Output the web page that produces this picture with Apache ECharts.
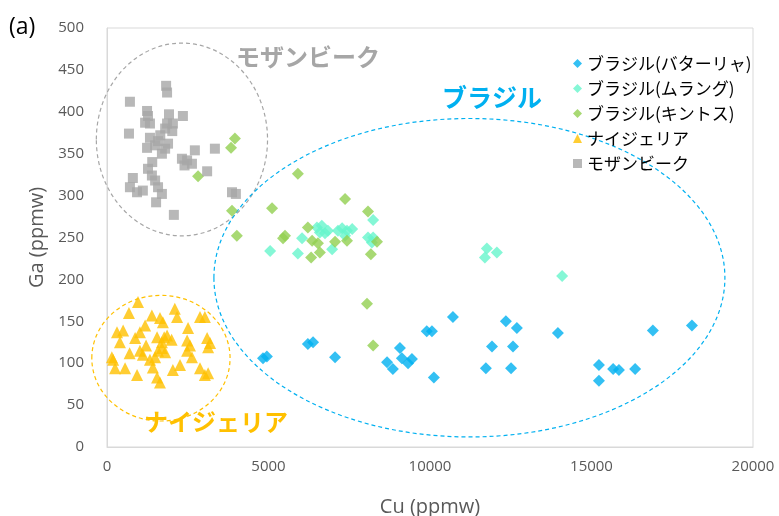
<!DOCTYPE html>
<html>
<head>
<meta charset="utf-8">
<script src="https://cdn.jsdelivr.net/npm/echarts@6/dist/echarts.min.js"></script>
<style>html,body{margin:0;padding:0;background:#fff}#c{width:779px;height:516px}</style>
</head>
<body>
<div id="c"></div>
<script>
// ---- data (Cu ppmw, Ga ppmw) ----
const seriesNames = ['ブラジル(バターリャ)','ブラジル(ムラング)','ブラジル(キントス)','ナイジェリア','モザンビーク'];
const xTicks = [0, 5000, 10000, 15000, 20000];
const yTicks = [0, 50, 100, 150, 200, 250, 300, 350, 400, 450, 500];

const batalha = [
  [4830,106],[4950,108],[6220,123],[6380,125],[7060,107],
  [8670,101],[8850,93],[9070,118],[9130,106],[9320,100],[9440,105],
  [9900,138],[10060,138],[10120,83],[10710,155],
  [11730,94],[11920,120],[12350,150],[12510,94],[12570,120],[12690,142],
  [13960,136],[15230,98],[15230,79],[15670,93],[15850,92],[16350,93],
  [16900,139],[18110,145]
];
const mulungu = [
  [5050,234],[5910,231],[6040,249],[6500,262],[6650,264],[6590,256],[6750,255],[6840,258],
  [6970,236],[7150,258],[7280,261],[7430,258],[7590,260],[7370,252],
  [8240,271],[8080,250],[8240,250],[8200,244],
  [11760,237],[11700,226],[12070,232],[14090,204]
];
const quintos = [
  [3960,368],[3840,357],[2820,323],[3870,282],[4020,252],[5110,285],
  [5910,326],[7370,296],[8080,281],[6220,262],[5510,252],[5450,249],
  [6350,246],[6530,243],[7060,245],[7430,246],[8360,245],[6590,232],
  [6320,226],[8170,230],[8050,171],[8240,121]
];
const nigeria = [
  [960,173],[680,160],[1390,157],[1640,154],[1730,149],[2100,165],[2170,155],
  [2880,155],[3030,155],[310,137],[500,139],[400,125],[1020,137],[1180,145],[870,130],
  [1550,131],[1770,131],[1860,133],[1700,125],[2510,142],[2480,127],[2570,121],
  [2480,115],[2630,107],[3100,130],[3130,119],[3190,124],[150,107],[190,104],
  [250,94],[1020,115],[1110,110],[1330,104],[1420,95],[560,94],[930,86],
  [1550,83],[1640,77],[2040,92],[2260,98],[2880,94],[3030,86],[3130,88],
  [1490,107],[1580,115],[1700,118],[1800,113],[1210,121],[2000,128],[700,112]
];
const mozambique = [
  [1830,431],[1860,423],[710,412],[1240,401],[1270,395],[1920,397],[2350,395],
  [1180,387],[1330,386],[1860,386],[2040,386],[680,374],[1800,380],[2020,377],
  [1330,369],[1580,365],[1240,357],[1490,360],[1800,356],[1890,362],
  [2320,344],[2480,342],[2630,338],[2720,354],[2400,336],[3340,356],[3100,329],
  [1270,332],[1390,324],[1490,318],[1580,310],[800,321],[710,310],[930,304],
  [1110,306],[1700,302],[1520,292],[3870,304],[3990,302],[2070,277],
  [1650,372],[1700,350],[1400,340]
];

// ---- annotation ellipses: [centerCu, centerGa, radiusCu, radiusGa] ----
const ellipseGray = [2320, 367, 2650, 115];
const ellipseYellow = [1670, 106, 2140, 75];
const ellipseBlue = [11220, 202, 7910, 190];

const COL = {blue:'#00B0F0', aqua:'#66F5CC', green:'#92D050', yellow:'#FFC000', gray:'#A6A6A6'};

function ellipseSeries(e, color){
  return {
    type:'custom', coordinateSystem:'cartesian2d', silent:true, clip:false, z:1,
    data:[e],
    encode:{x:0, y:1},
    renderItem:function(params, api){
      const c = api.coord([api.value(0), api.value(1)]);
      const p = api.coord([api.value(0)+api.value(2), api.value(1)+api.value(3)]);
      return {type:'ellipse', shape:{cx:c[0], cy:c[1], rx:Math.abs(p[0]-c[0]), ry:Math.abs(c[1]-p[1])},
        style:{fill:'none', stroke:color, lineWidth:1.2, lineDash:[4,3]}};
    }
  };
}

const chart = echarts.init(document.getElementById('c'), null, {renderer:'canvas'});
const jp = '"Noto Sans CJK JP", "Noto Sans", sans-serif';
const num = '"Open Sans", "Noto Sans", sans-serif';
chart.setOption({
  animation:false,
  backgroundColor:'#fff',
  grid:{left:107, right:26, top:28, bottom:69, containLabel:false, outerBoundsMode:'none',
    show:true, borderColor:'#d9d9d9', borderWidth:1},
  xAxis:{type:'value', min:xTicks[0], max:xTicks[xTicks.length-1], interval:5000,
    name:'Cu (ppmw)', nameLocation:'middle', nameGap:50,
    nameTextStyle:{fontFamily:num, fontSize:20, color:'#595959'},
    axisLine:{show:true, lineStyle:{color:'#d9d9d9'}}, axisTick:{show:false},
    axisLabel:{fontFamily:num, fontSize:15, color:'#595959', margin:12, formatter:function(v){return String(v);}},
    splitLine:{show:false}},
  yAxis:{type:'value', min:yTicks[0], max:yTicks[yTicks.length-1], interval:50,
    name:'Ga (ppmw)', nameLocation:'middle', nameGap:58,
    nameTextStyle:{fontFamily:num, fontSize:20, color:'#595959'},
    axisLine:{show:true, lineStyle:{color:'#d9d9d9'}}, axisTick:{show:false},
    axisLabel:{fontFamily:num, fontSize:15, color:'#595959', margin:23},
    splitLine:{show:false}},
  legend:{orient:'vertical', left:568, top:50, itemGap:8, itemWidth:9, itemHeight:9,
    data:seriesNames,
    textStyle:{fontFamily:jp, fontSize:17, color:'#000'}},
  graphic:[
    {type:'text', left:9, top:16, style:{text:'(a)', fontFamily:num, fontSize:23, fill:'#000'}},
    {type:'text', left:236, top:45, style:{text:'モザンビーク', fontFamily:jp, fontSize:24, fontWeight:'bold', fill:COL.gray}},
    {type:'text', left:442, top:85, style:{text:'ブラジル', fontFamily:jp, fontSize:25, fontWeight:'bold', fill:COL.blue}},
    {type:'text', left:144, top:410, style:{text:'ナイジェリア', fontFamily:jp, fontSize:24, fontWeight:'bold', fill:COL.yellow}}
  ],
  series:[
    ellipseSeries(ellipseGray, COL.gray),
    ellipseSeries(ellipseYellow, COL.yellow),
    ellipseSeries(ellipseBlue, COL.blue),
    {name:seriesNames[0], type:'scatter', data:batalha, symbol:'diamond', symbolSize:12, itemStyle:{color:COL.blue}, z:3},
    {name:seriesNames[1], type:'scatter', data:mulungu, symbol:'diamond', symbolSize:12, itemStyle:{color:COL.aqua}, z:3},
    {name:seriesNames[2], type:'scatter', data:quintos, symbol:'diamond', symbolSize:12, itemStyle:{color:COL.green}, z:3},
    {name:seriesNames[3], type:'scatter', data:nigeria, symbol:'triangle', symbolSize:12, itemStyle:{color:COL.yellow}, z:3},
    {name:seriesNames[4], type:'scatter', data:mozambique, symbol:'rect', symbolSize:10, itemStyle:{color:COL.gray}, z:3}
  ]
});
</script>
</body>
</html>
